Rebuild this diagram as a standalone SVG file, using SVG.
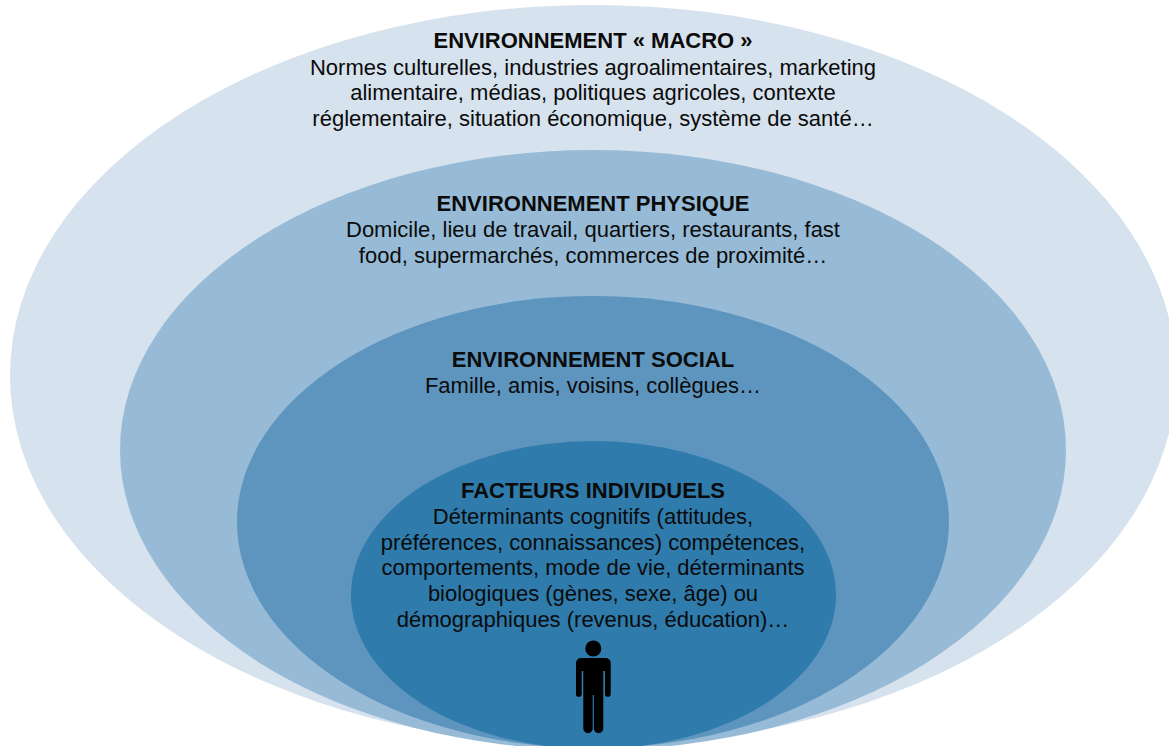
<svg xmlns="http://www.w3.org/2000/svg" width="1169" height="746" viewBox="0 0 1169 746">
<style>
text{font-family:"Liberation Sans",Arial,sans-serif;font-size:22px;fill:#0b0b0b;text-anchor:middle}
.h{font-weight:700}
</style>
<rect width="1169" height="746" fill="#fff"/>
<g id="macro"><ellipse cx="593" cy="375.500" rx="583" ry="370.500" fill="#d6e2ed"/>
<text class="h" x="593" y="48">ENVIRONNEMENT « MACRO »</text>
<text x="593" y="74.500">Normes culturelles, industries agroalimentaires, marketing</text>
<text x="593" y="100">alimentaire, médias, politiques agricoles, contexte</text>
<text x="593" y="125.500">réglementaire, situation économique, système de santé…</text></g>
<g id="physique"><ellipse cx="593" cy="450" rx="473" ry="300" fill="#97bbd6"/>
<text class="h" x="593" y="211">ENVIRONNEMENT PHYSIQUE</text>
<text x="593" y="237">Domicile, lieu de travail, quartiers, restaurants, fast</text>
<text x="593" y="262.500">food, supermarchés, commerces de proximité…</text></g>
<g id="social"><ellipse cx="593" cy="522" rx="356" ry="226" fill="#5e95be"/>
<text class="h" x="593" y="367">ENVIRONNEMENT SOCIAL</text>
<text x="593" y="393">Famille, amis, voisins, collègues…</text></g>
<g id="individuel"><ellipse cx="593.500" cy="595" rx="242.500" ry="154" fill="#2e7bac"/>
<text class="h" x="593" y="498">FACTEURS INDIVIDUELS</text>
<text x="593" y="524">Déterminants cognitifs (attitudes,</text>
<text x="593" y="550">préférences, connaissances) compétences,</text>
<text x="593" y="575">comportements, mode de vie, déterminants</text>
<text x="593" y="601">biologiques (gènes, sexe, âge) ou</text>
<text x="593" y="627">démographiques (revenus, éducation)…</text></g>
<g id="personne" fill="#000">
<circle cx="593.300" cy="648.500" r="8"/>
<path d="M581 658H605.700A5 5 0 0 1 610.700 663V694A2.850 2.850 0 0 1 605 694V671H603.300V728.500A4.700 4.700 0 0 1 593.900 728.500V695H592.700V728.500A4.700 4.700 0 0 1 583.300 728.500V671H581.700V694A2.850 2.850 0 0 1 576 694V663A5 5 0 0 1 581 658Z"/>
</g>
<g id="connecteurs"/>
</svg>
